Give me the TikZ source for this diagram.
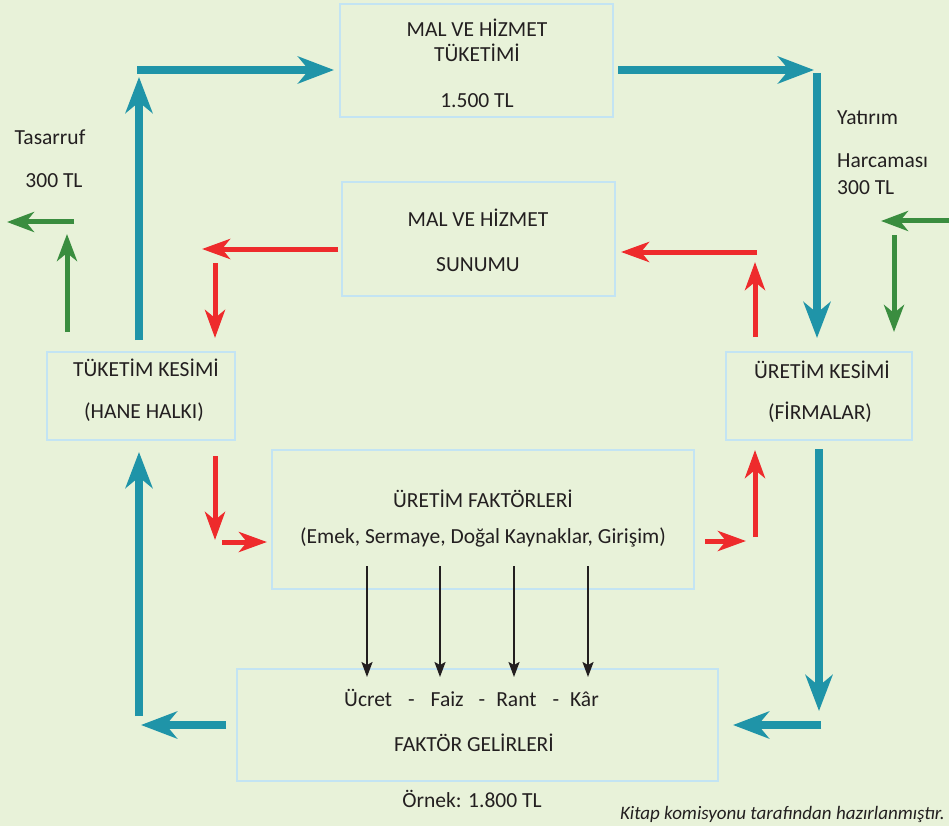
\documentclass[tikz,border=0pt]{standalone}
\usepackage{fontspec}
\setmainfont{Carlito}
\usetikzlibrary{arrows.meta}
\definecolor{bgc}{HTML}{E8F2D9}
\definecolor{boxc}{HTML}{C3E4F3}
\definecolor{tealc}{HTML}{1F94A8}
\definecolor{redc}{HTML}{EE2B2C}
\definecolor{greenc}{HTML}{3A8D3F}
\definecolor{txtc}{HTML}{231F20}
\begin{document}
\begin{tikzpicture}[
		x=1pt, y=-1pt,
		box/.style = {rectangle, draw=boxc, line width=2.5pt, inner sep=0pt},
		lbl/.style = {font=\fontsize{21.5}{26}\selectfont, text=txtc, inner sep=0pt, anchor=mid, yshift=-4pt},
		tl/.style  = {draw=tealc, line width=7.5pt, -{Stealth[length=36pt, width=27pt, inset=11pt]}},
		rd/.style  = {draw=redc, line width=5pt, -{Stealth[length=28pt, width=20pt, inset=8pt]}},
		gr/.style  = {draw=greenc, line width=5pt, -{Stealth[length=27pt, width=20pt, inset=8pt]}},
		bk/.style  = {draw=txtc, line width=2pt, -{Stealth[length=15pt, width=11pt, inset=3pt]}}
		]
		\fill[bgc] (0,0) rectangle (949,826);
		\useasboundingbox (0,0) rectangle (949,826);
		
		% Boxes
		\node[box, minimum width=273pt, minimum height=113pt] (tuketim) at (476.5, 60.5) {};
		\node[box, minimum width=273pt, minimum height=114pt] (sunum) at (478.5, 239) {};
		\node[box, minimum width=188pt, minimum height=88pt] (hane) at (141, 396) {};
		\node[box, minimum width=186pt, minimum height=88pt] (firma) at (819, 396) {};
		\node[box, minimum width=422pt, minimum height=139pt] (faktor) at (483, 519.5) {};
		\node[box, minimum width=481pt, minimum height=112pt] (gelir) at (477.5, 725) {};
		
		% Box texts
		\node[lbl] (tuketim1) at (477, 30) {MAL VE HİZMET};
		\node[lbl] (tuketim2) at (477, 55) {TÜKETİMİ};
		\node[lbl] (tuketim3) at (477, 101) {1.500 TL};
		\node[lbl] (sunum1) at (478, 220) {MAL VE HİZMET};
		\node[lbl] (sunum2) at (478, 265) {SUNUMU};
		\node[lbl] (hane1) at (146, 370) {TÜKETİM KESİMİ};
		\node[lbl] (hane2) at (144, 412) {(HANE HALKI)};
		\node[lbl] (firma1) at (822, 372) {ÜRETİM KESİMİ};
		\node[lbl] (firma2) at (820, 413) {(FİRMALAR)};
		\node[lbl] (faktor1) at (483, 501) {ÜRETİM FAKTÖRLERİ};
		\node[lbl] (faktor2) at (483, 537) {(Emek, Sermaye, Doğal Kaynaklar, Girişim)};
		\node[lbl] (gelir1) at (471.5, 700) {Ücret\hspace{16pt}-\hspace{16pt}Faiz\hspace{15pt}-\hspace{11pt}Rant\hspace{16pt}-\hspace{11pt}Kâr};
		\node[lbl] (gelir2) at (474, 745) {FAKTÖR GELİRLERİ};
		\node[lbl] (ornek) at (472, 801) {Örnek: 1.800 TL};
		\node[lbl, anchor=mid east, font=\fontsize{19}{22}\selectfont\itshape] (kaynak) at (945, 813) {Kitap komisyonu tarafından hazırlanmıştır.};
		
		% Side labels
		\node[lbl] (tasarruf1) at (50, 138) {Tasarruf};
		\node[lbl] (tasarruf2) at (54, 181) {300 TL};
		\node[lbl, anchor=mid west] (yatirim1) at (837, 118) {Yatırım};
		\node[lbl, anchor=mid west] (yatirim2) at (837, 161) {Harcaması};
		\node[lbl, anchor=mid west] (yatirim3) at (837, 188) {300 TL};
		
		% Teal flow: money
		\coordinate (t1a) at (139, 340); \coordinate (t1b) at (139, 77);
		\coordinate (t2a) at (137, 70);  \coordinate (t2b) at (334, 70);
		\coordinate (t3a) at (618, 70);  \coordinate (t3b) at (814, 70);
		\coordinate (t4a) at (817, 73);  \coordinate (t4b) at (817, 338);
		\coordinate (t5a) at (819, 449); \coordinate (t5b) at (819, 711);
		\coordinate (t6a) at (821, 725); \coordinate (t6b) at (733, 725);
		\coordinate (t7a) at (226, 725); \coordinate (t7b) at (141, 725);
		\coordinate (t8a) at (139, 716); \coordinate (t8b) at (139, 452);
		\draw[tl] (t1a) -- (t1b);
		\draw[tl] (t2a) -- (t2b);
		\draw[tl] (t3a) -- (t3b);
		\draw[tl] (t4a) -- (t4b);
		\draw[tl] (t5a) -- (t5b);
		\draw[tl] (t6a) -- (t6b);
		\draw[tl] (t7a) -- (t7b);
		\draw[tl] (t8a) -- (t8b);
		
		% Red flow: goods and factors
		\coordinate (r1a) at (338, 249); \coordinate (r1b) at (202, 249);
		\coordinate (r2a) at (215, 263); \coordinate (r2b) at (215, 338);
		\coordinate (r3a) at (757, 252); \coordinate (r3b) at (621, 252);
		\coordinate (r4a) at (755, 337); \coordinate (r4b) at (755, 262);
		\coordinate (r5a) at (215, 456); \coordinate (r5b) at (215, 540);
		\coordinate (r6a) at (222, 542); \coordinate (r6b) at (267, 542);
		\coordinate (r7a) at (705, 541); \coordinate (r7b) at (746, 541);
		\coordinate (r8a) at (755, 537); \coordinate (r8b) at (755, 450);
		\draw[rd] (r1a) -- (r1b);
		\draw[rd] (r2a) -- (r2b);
		\draw[rd] (r3a) -- (r3b);
		\draw[rd] (r4a) -- (r4b);
		\draw[rd] (r5a) -- (r5b);
		\draw[rd] (r6a) -- (r6b);
		\draw[rd] (r7a) -- (r7b);
		\draw[rd] (r8a) -- (r8b);
		
		% Green: saving and investment
		\coordinate (g1a) at (74, 222);  \coordinate (g1b) at (7, 222);
		\coordinate (g2a) at (67, 332);  \coordinate (g2b) at (67, 234);
		\coordinate (g3a) at (949, 221); \coordinate (g3b) at (881, 221);
		\coordinate (g4a) at (894, 235); \coordinate (g4b) at (894, 332);
		\draw[gr] (g1a) -- (g1b);
		\draw[gr] (g2a) -- (g2b);
		\draw[gr] (g3a) -- (g3b);
		\draw[gr] (g4a) -- (g4b);
		
		% Black: factor incomes
		\coordinate (k1a) at (367, 566); \coordinate (k1b) at (367, 677);
		\coordinate (k2a) at (440, 566); \coordinate (k2b) at (440, 677);
		\coordinate (k3a) at (514, 566); \coordinate (k3b) at (514, 677);
		\coordinate (k4a) at (588, 566); \coordinate (k4b) at (588, 677);
		\draw[bk] (k1a) -- (k1b);
		\draw[bk] (k2a) -- (k2b);
		\draw[bk] (k3a) -- (k3b);
		\draw[bk] (k4a) -- (k4b);
	\end{tikzpicture}
\end{document}
